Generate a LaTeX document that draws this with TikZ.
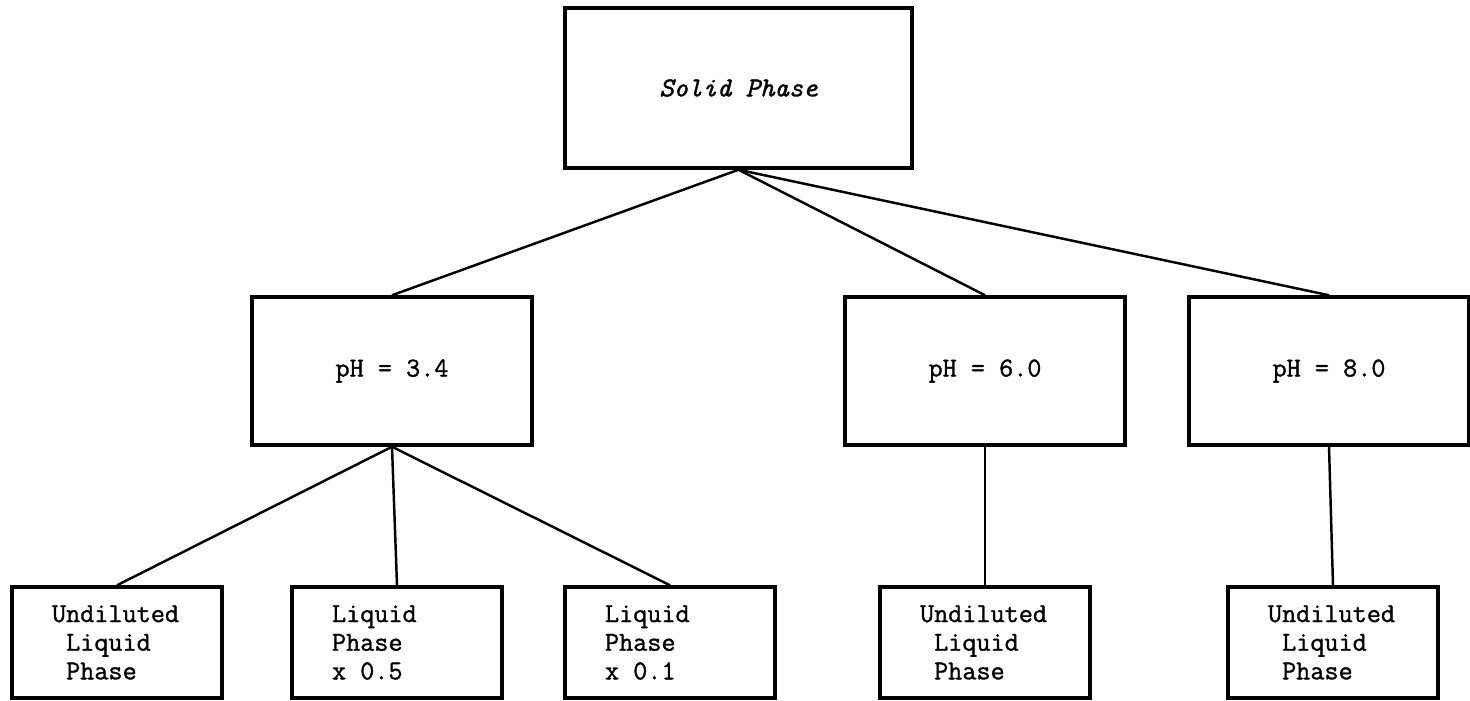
\documentclass[tikz,border=0pt]{standalone}
\usepackage{fontspec}
\usepackage{tikz}
\newfontfamily\typer{Latin Modern Mono}[FakeBold=1.2]
\begin{document}
\begin{tikzpicture}[x=0.02cm,y=-0.02cm,
    box/.style={draw,line width=2pt,rectangle,inner sep=0pt,align=center,
      font=\typer\fontsize{15.6}{16.3}\selectfont},
    topbox/.style={box,minimum width=6.94cm,minimum height=3.2cm},
    phbox/.style={box,minimum width=5.6cm,minimum height=2.96cm},
    liqbox/.style={box,align=left,inner xsep=0.8cm,text width=2.6cm,minimum height=2.22cm},
    link/.style={line width=1.4pt}]
  \useasboundingbox (0,0) rectangle (1470,700);

  \node[topbox] (solid) at (738.5,88) {\itshape Solid Phase};

  \node[phbox] (ph34) at (392,371) {pH = 3.4};
  \node[phbox] (ph60) at (985,371) {pH = 6.0};
  \node[phbox] (ph80) at (1329,371) {pH = 8.0};

  \node[liqbox] (und34) at (117,642.5) {Undiluted\\\phantom{U}Liquid\\\phantom{U}Phase};
  \node[liqbox] (half) at (397,642.5) {Liquid\\Phase\\x\phantom{0}0.5};
  \node[liqbox] (tenth) at (670,642.5) {Liquid\\Phase\\x\phantom{0}0.1};
  \node[liqbox] (und60) at (985,642.5) {Undiluted\\\phantom{U}Liquid\\\phantom{U}Phase};
  \node[liqbox] (und80) at (1333,642.5) {Undiluted\\\phantom{U}Liquid\\\phantom{U}Phase};

  % solid phase to the three pH values
  \draw[link] (solid.south) -- (ph34.north);
  \draw[link] (solid.south) -- (ph60.north);
  \draw[link] (solid.south) -- (ph80.north);

  % dilutions
  \draw[link] (ph34.south) -- (und34.north);
  \draw[link] (ph34.south) -- (half.north);
  \draw[link] (ph34.south) -- (tenth.north);
  \draw[link] (ph60.south) -- (und60.north);
  \draw[link] (ph80.south) -- (und80.north);
\end{tikzpicture}
\end{document}
